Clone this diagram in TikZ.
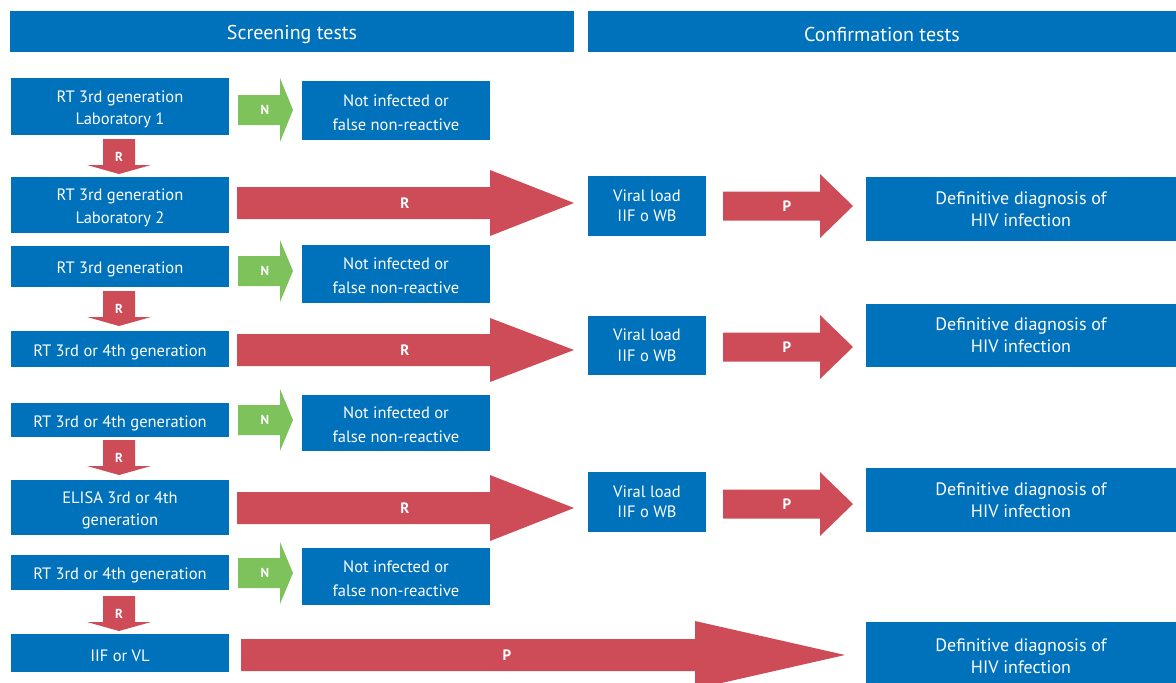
\documentclass[tikz,border=0pt]{standalone}
\usepackage{fontspec}
\setmainfont{PT Sans}
\definecolor{hblue}{RGB}{0,114,188}
\definecolor{hred}{RGB}{205,76,87}
\definecolor{hgreen}{RGB}{125,194,91}
\tikzset{
  box/.style={text=white,align=center,inner sep=0pt,font=\fontsize{16.5}{22.5}\selectfont,yshift=-3pt},
  nibox/.style={box,font=\fontsize{16.5}{24}\selectfont,yshift=1pt},
  vlbox/.style={box,font=\fontsize{16.5}{20.5}\selectfont,yshift=3pt},
  ddbox/.style={box,font=\fontsize{18}{22}\selectfont,yshift=3pt},
  hdr/.style={box,font=\fontsize{20}{22}\selectfont},
  lab/.style={text=white,inner sep=0pt,font=\bfseries\fontsize{13}{13}\selectfont},
  biglab/.style={lab,font=\bfseries\fontsize{15}{15}\selectfont}
}
% box: name, x1, y1, x2, y2, style, text
\newcommand{\bx}[7]{\fill[hblue] (#2,#3) rectangle (#4,#5);
  \node[#6] (#1) at ({(#2+#4)/2},{(#3+#5)/2}) {#7};}
% horizontal arrow: x1, xh, xt, yc, bodyhalf, headhalf, color
\newcommand{\harrow}[7]{\fill[#7] (#1,{#4-#5}) -- (#2,{#4-#5}) -- (#2,{#4-#6}) -- (#3,#4) -- (#2,{#4+#6}) -- (#2,{#4+#5}) -- (#1,{#4+#5}) -- cycle;}
% vertical arrow: name, xc, y1, yh, yt, bodyhalf, headhalf
\newcommand{\varrow}[7]{\fill[hred] ({#2-#6},#3) -- ({#2+#6},#3) -- ({#2+#6},#4) -- ({#2+#7},#4) -- (#2,#5) -- ({#2-#7},#4) -- ({#2-#6},#4) -- cycle;
  \node[lab] (#1) at (#2,{(#3+#5)/2}) {R};}
\begin{document}
\begin{tikzpicture}[x=1pt,y=-1pt]
\useasboundingbox (0,0) rectangle (1176,683);
\clip (0,0) rectangle (1176,683);
\bx{h1}{10}{11}{574}{52}{hdr}{Screening tests}
\bx{h2}{588}{11}{1176}{52}{hdr}{Confirmation tests}
% row 1
\bx{a1}{11}{78}{229}{135}{box}{RT 3rd generation\\Laboratory 1}
\harrow{238}{280}{293}{110}{15}{32}{hgreen}
\node[lab] (n1) at (265,110) {N};
\bx{ni1}{302}{81}{490}{140}{nibox}{Not infected or\\false non-reactive}
\varrow{d1}{119}{139}{165}{174}{16}{32}
% row 2
\bx{a2}{11}{177}{229}{233}{box}{RT 3rd generation\\Laboratory 2}
\harrow{237}{490}{574}{203}{16}{33}{hred}
\node[biglab] (r1) at (405,203) {R};
\bx{v1}{588}{176}{706}{236}{vlbox}{Viral load\\IIF o WB}
\harrow{723}{820}{853}{206}{14.5}{32}{hred}
\node[biglab] (p1) at (787,206) {P};
\bx{dd1}{866}{177}{1176}{241}{ddbox}{Definitive diagnosis of\\HIV infection}
% row 3
\bx{a3}{11}{246}{229}{287}{box}{RT 3rd generation}
\harrow{238}{280}{293}{271}{15}{31}{hgreen}
\node[lab] (n2) at (265,271) {N};
\bx{ni2}{302}{245}{490}{303}{nibox}{Not infected or\\false non-reactive}
\varrow{d2}{119}{291}{317}{326}{16}{32}
% row 4
\bx{a4}{11}{331}{229}{367}{box}{RT 3rd or 4th generation}
\harrow{237}{490}{574}{350}{16}{32}{hred}
\node[biglab] (r2) at (405,350) {R};
\bx{v2}{588}{316}{706}{375}{vlbox}{Viral load\\IIF o WB}
\harrow{723}{820}{853}{347}{14.5}{32}{hred}
\node[biglab] (p2) at (787,347) {P};
\bx{dd2}{866}{304}{1176}{367}{ddbox}{Definitive diagnosis of\\HIV infection}
% row 5
\bx{a5}{11}{403}{229}{437}{box}{RT 3rd or 4th generation}
\harrow{238}{280}{293}{420}{15}{31}{hgreen}
\node[lab] (n3) at (265,420) {N};
\bx{ni3}{302}{395}{490}{451}{nibox}{Not infected or\\false non-reactive}
\varrow{d3}{119}{440}{466}{475}{16}{32}
% row 6
\bx{a6}{11}{480}{229}{535}{box}{ELISA 3rd or 4th\\generation}
\harrow{237}{490}{574}{508}{16}{33}{hred}
\node[biglab] (r3) at (405,508) {R};
\bx{v3}{588}{472}{706}{532}{vlbox}{Viral load\\IIF o WB}
\harrow{723}{820}{853}{504}{14.5}{32}{hred}
\node[biglab] (p3) at (787,504) {P};
\bx{dd3}{866}{468}{1176}{532}{ddbox}{Definitive diagnosis of\\HIV infection}
% row 7
\bx{a7}{11}{555}{229}{590}{box}{RT 3rd or 4th generation}
\harrow{238}{280}{293}{573}{15}{31}{hgreen}
\node[lab] (n4) at (265,573) {N};
\bx{ni4}{302}{548}{490}{605}{nibox}{Not infected or\\false non-reactive}
\varrow{d4}{119}{596}{622}{631}{16}{32}
% row 8
\bx{a8}{11}{634}{229}{672}{box}{IIF or VL}
\harrow{241}{695}{845}{655}{16}{34}{hred}
\node[biglab] (p4) at (507,655) {P};
\bx{dd4}{866}{622}{1176}{690}{ddbox}{Definitive diagnosis of\\HIV infection}
\end{tikzpicture}
\end{document}
